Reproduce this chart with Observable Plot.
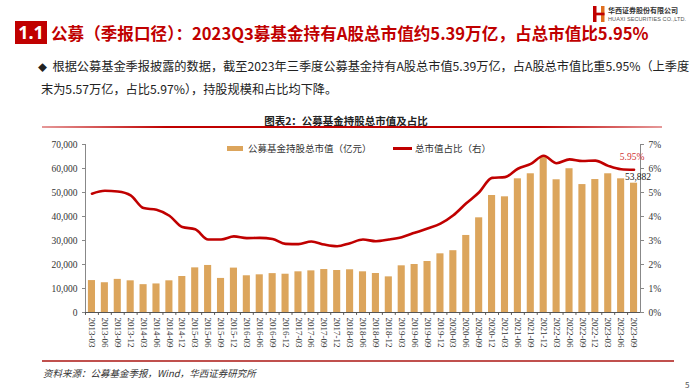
<!DOCTYPE html>
<html>
<head>
<meta charset="utf-8">
<script src="https://cdn.jsdelivr.net/npm/d3@7"></script>
<script src="https://cdn.jsdelivr.net/npm/@observablehq/plot@0.6"></script>
<style>
  html, body { margin:0; padding:0; background:#fff; }
  body { width:700px; height:392px; position:relative; overflow:hidden; font-family:"Noto Sans CJK SC","Noto Sans",sans-serif; }
  .abs { position:absolute; white-space:nowrap; }
  #box { left:15px; top:21px; width:32px; height:23px; background:#C00000; color:#fff; font-weight:700; font-size:18px; line-height:23px; text-align:center; font-family:"Noto Sans","Noto Sans CJK SC",sans-serif; }
  #title { left:51px; top:23px; font-size:16.6px; line-height:20px; font-weight:700; color:#C00000; }
  #logo1 { left:608px; top:6px; font-size:7px; line-height:9px; color:#333; font-weight:700; }
  #logo2 { left:608px; top:16px; font-size:5.5px; line-height:6px; color:#555; letter-spacing:0.1px; font-family:"Liberation Sans",sans-serif; }
  #logoicon { left:593px; top:6px; width:12px; height:16px; }
  .bul { font-size:12.2px; color:#222; line-height:18px; }
  #ctitle { left:0; width:692px; top:113px; text-align:center; font-size:10.5px; font-weight:700; color:#222; }
  #crule { left:42px; top:126px; width:620px; height:1.5px; background:linear-gradient(90deg, rgba(192,0,0,0.4), #C00000 20%, #C00000 80%, rgba(192,0,0,0.4)); }
  #chart { position:absolute; left:0; top:130px; }
  .leg { font-size:9.5px; color:#333; line-height:12px; }
  #src { left:43px; top:366px; font-size:9.5px; font-style:italic; color:#333; }
  #brule { left:42px; top:360px; width:632px; height:2px; background:#C0504D; }
  #page { left:685px; top:379px; font-size:8px; color:#555; }
</style>
</head>
<body>
<div id="box" class="abs">1.1</div>
<div id="title" class="abs">公募（季报口径）：2023Q3募基金持有A股总市值约5.39万亿，占总市值比5.95%</div>
<svg id="logoicon" class="abs" viewBox="0 0 12 18" preserveAspectRatio="none"><rect x="0" y="0" width="3.5" height="18" fill="#C00000"/><rect x="8" y="0" width="3.5" height="18" fill="#E07020"/><rect x="0" y="7.5" width="11.5" height="3" fill="#C00000"/></svg>
<div id="logo1" class="abs">华西证券股份有限公司</div>
<div id="logo2" class="abs">HUAXI SECURITIES CO.,LTD.</div>
<div class="abs bul" style="left:38px;top:57px;"><span style="font-size:9px;">◆</span>&nbsp;&nbsp;根据公募基金季报披露的数据，截至2023年三季度公募基金持有A股总市值5.39万亿，占A股总市值比重5.95%（上季度</div>
<div class="abs bul" style="left:41px;top:80px;">末为5.57万亿，占比5.97%），持股规模和占比均下降。</div>
<div id="ctitle" class="abs">图表2：公募基金持股总市值及占比</div>
<div id="crule" class="abs"></div>
<div id="chart"></div>
<div class="abs" style="left:227px;top:146px;width:16px;height:5px;background:#DCA55C;z-index:2;"></div>
<div class="abs leg" style="left:248px;top:142px;z-index:2;">公募基金持股总市值（亿元）</div>
<div class="abs" style="left:393px;top:147px;width:19px;height:2.5px;background:#C00000;z-index:2;"></div>
<div class="abs leg" style="left:415px;top:142px;z-index:2;">总市值占比（右）</div>
<div id="brule" class="abs"></div>
<div id="src" class="abs">资料来源：公募基金季报，Wind，华西证券研究所</div>
<div id="page" class="abs">5</div>
<script>
const quarters = [
  "2013-03","2013-06","2013-09","2013-12",
  "2014-03","2014-06","2014-09","2014-12",
  "2015-03","2015-06","2015-09","2015-12",
  "2016-03","2016-06","2016-09","2016-12",
  "2017-03","2017-06","2017-09","2017-12",
  "2018-03","2018-06","2018-09","2018-12",
  "2019-03","2019-06","2019-09","2019-12",
  "2020-03","2020-06","2020-09","2020-12",
  "2021-03","2021-06","2021-09","2021-12",
  "2022-03","2022-06","2022-09","2022-12",
  "2023-03","2023-06","2023-09"
];
// 公募基金持股总市值（亿元）
const holdings = [
  13300, 12400, 13800, 13200,
  11600, 11900, 13200, 15000,
  18600, 19600, 14200, 18500,
  15300, 15700, 16200, 15950,
  16950, 17350, 17900, 17500,
  17800, 16950, 16250, 14850,
  19450, 20000, 21250, 24450,
  25750, 32100, 39450, 48750,
  48200, 55700, 57800, 65000,
  55300, 59900, 53300, 55400,
  57800, 55700, 53882
];
// 总市值占比（%，右轴）
const ratio = [
  4.95, 5.07, 5.04, 4.88,
  4.35, 4.28, 4.03, 3.56,
  3.47, 3.04, 3.04, 3.17,
  3.10, 3.11, 3.06, 2.86,
  2.85, 2.96, 2.83, 2.76,
  2.89, 3.04, 2.97, 3.04,
  3.14, 3.32, 3.50, 3.70,
  4.05, 4.55, 5.01, 5.61,
  5.64, 5.99, 6.19, 6.53,
  6.22, 6.38, 6.31, 6.33,
  6.11, 5.97, 5.95
];
const leftTicks = [0, 10000, 20000, 30000, 40000, 50000, 60000, 70000];
const rightTicks = [0, 1, 2, 3, 4, 5, 6, 7];

const data = quarters.map((q, i) => ({q, v: holdings[i], r: ratio[i]}));
const last = data[data.length - 1];
const RATIO_K = 10000; // 1% on the right axis = 10,000 on the left axis

const serif = "'Liberation Serif','Times New Roman',serif";
const chart = Plot.plot({
  width: 700,
  height: 230,
  marginLeft: 85,
  marginRight: 60,
  marginTop: 14,
  marginBottom: 48,
  style: {fontFamily: serif, fontSize: "9.5px", color: "#333", background: "transparent"},
  x: {type: "band", domain: quarters, paddingInner: 0.45, paddingOuter: 0.225},
  y: {domain: [0, 70000]},
  marks: [
    Plot.barY(data, {x: "q", y: "v", fill: "#DCA55C"}),
    Plot.line(data, {x: "q", y: d => d.r * RATIO_K, stroke: "#C00000", strokeWidth: 2.6, curve: "monotone-x"}),
    Plot.frame({anchor: "left", stroke: "#888"}),
    Plot.frame({anchor: "right", stroke: "#888"}),
    Plot.ruleY([0], {stroke: "#555"}),
    Plot.axisY({anchor: "left", ticks: leftTicks, tickFormat: d3.format(","), tickSize: 3, tickPadding: 5, stroke: "#888", label: null}),
    Plot.axisY({anchor: "right", ticks: rightTicks.map(d => d * RATIO_K), tickFormat: d => d / RATIO_K + "%", tickSize: 3, tickPadding: 5, stroke: "#888", label: null}),
    Plot.axisX({tickRotate: 90, tickSize: 0, tickPadding: 5, label: null, fontSize: 9}),
    Plot.ruleX(quarters, {x: d => d, y1: 0, y2: -1200, dx: -6.45, stroke: "#555"}),
    Plot.text([last], {x: "q", y: d => d.r * RATIO_K, text: d => d.r.toFixed(2) + "%", dy: -13, dx: -2, fill: "#D03030", fontSize: 9.5}),
    Plot.text([last], {x: "q", y: "v", text: d => d3.format(",")(d.v), dy: -6, dx: 4, fill: "#222", fontSize: 9.5})
  ]
});
document.getElementById("chart").appendChild(chart);
</script>
</body>
</html>
